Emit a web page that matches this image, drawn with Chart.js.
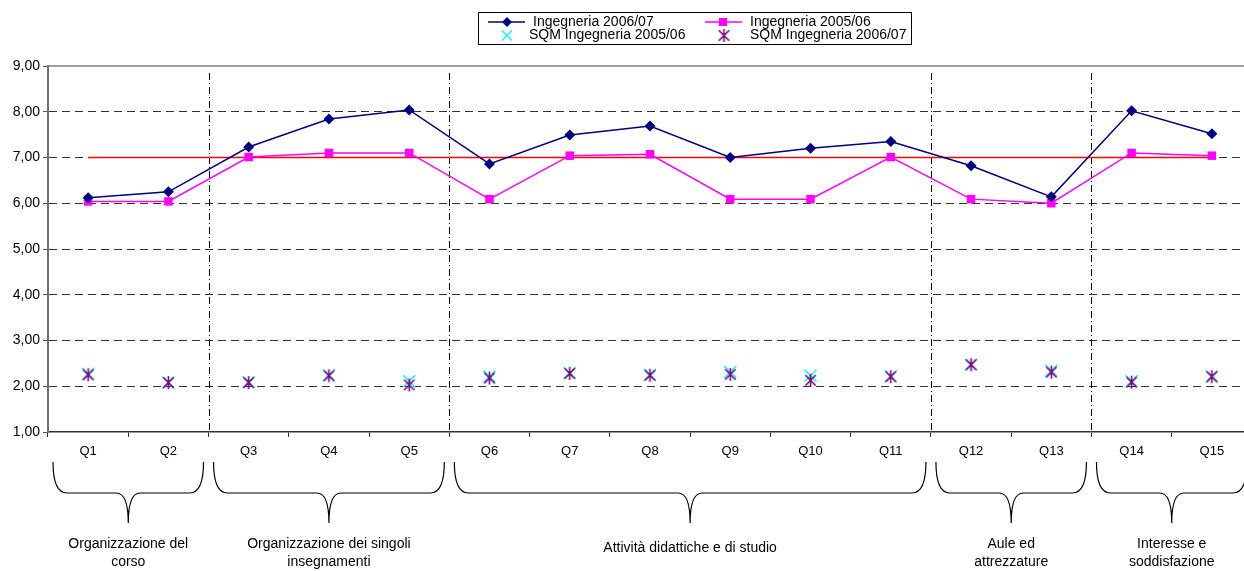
<!DOCTYPE html>
<html>
<head>
<meta charset="utf-8">
<script src="https://cdn.jsdelivr.net/npm/chart.js@4/dist/chart.umd.min.js"></script>
<style>
  html, body { margin: 0; padding: 0; background: #fff; overflow: hidden; }
  #wrap { width: 1244px; height: 571px; overflow: hidden; position: relative; }
  canvas { display: block; }
</style>
</head>
<body>
<div id="wrap"><canvas id="chart" width="1262" height="571"></canvas></div>
<script>
// questions
const categories = ['Q1', 'Q2', 'Q3', 'Q4', 'Q5', 'Q6', 'Q7', 'Q8', 'Q9', 'Q10', 'Q11', 'Q12', 'Q13', 'Q14', 'Q15'];

// mean scores
const ing0607 = [6.12, 6.25, 7.23, 7.84, 8.04, 6.86, 7.49, 7.69, 7.00, 7.20, 7.35, 6.82, 6.14, 8.02, 7.52];
const ing0506 = [6.04, 6.04, 7.01, 7.10, 7.10, 6.09, 7.04, 7.07, 6.09, 6.09, 7.01, 6.09, 6.00, 7.10, 7.04];

// standard deviations (SQM)
const sqm0506 = [2.27, 2.08, 2.09, 2.24, 2.11, 2.21, 2.29, 2.25, 2.31, 2.23, 2.22, 2.47, 2.34, 2.11, 2.21];
const sqm0607 = [2.25, 2.08, 2.08, 2.23, 2.03, 2.18, 2.28, 2.24, 2.26, 2.13, 2.21, 2.47, 2.31, 2.09, 2.21];

// target line
const target = [7, 7, 7, 7, 7, 7, 7, 7, 7, 7, 7, 7, 7, 7, 7];

const seriesNames = ['Ingegneria 2006/07', 'Ingegneria 2005/06', 'SQM Ingegneria 2005/06', 'SQM Ingegneria 2006/07'];

// question groups (first and last index)
const groupNames = [
  ['Organizzazione del', 'corso'],
  ['Organizzazione dei singoli', 'insegnamenti'],
  ['Attività didattiche e di studio'],
  ['Aule ed', 'attrezzature'],
  ['Interesse e', 'soddisfazione']
];
const groupFirst = [0, 2, 5, 11, 13];
const groupLast = [1, 4, 10, 12, 14];

const FONT = '"Liberation Sans", Arial, sans-serif';

function makeStar(color, size) {
  const c = document.createElement('canvas');
  c.width = size; c.height = size;
  const g = c.getContext('2d');
  g.strokeStyle = color;
  g.lineWidth = 1.6;
  const m = size / 2, r = size / 2 - 1;
  g.beginPath();
  g.moveTo(m - r * 0.8, m - r * 0.8); g.lineTo(m + r * 0.8, m + r * 0.8);
  g.moveTo(m + r * 0.8, m - r * 0.8); g.lineTo(m - r * 0.8, m + r * 0.8);
  g.moveTo(m, m - r); g.lineTo(m, m + r);
  g.stroke();
  return c;
}
const starImg = makeStar('#800080', 15);

function diamond(ctx, x, y, r) {
  ctx.beginPath();
  ctx.moveTo(x, y - r); ctx.lineTo(x + r, y); ctx.lineTo(x, y + r); ctx.lineTo(x - r, y);
  ctx.closePath(); ctx.fill();
}

const extras = {
  id: 'extras',
  beforeDatasetsDraw(chart) {
    const {ctx, chartArea: a, scales: {x}} = chart;
    ctx.save();
    // top frame
    ctx.strokeStyle = '#808080'; ctx.lineWidth = 1.5;
    ctx.beginPath(); ctx.moveTo(a.left, a.top); ctx.lineTo(a.right, a.top); ctx.stroke();
    // group separators
    ctx.strokeStyle = '#000'; ctx.lineWidth = 1;
    ctx.setLineDash([7, 3, 1, 3]);
    for (let g = 1; g < groupFirst.length; g++) {
      const i = groupFirst[g];
      const px = Math.round((x.getPixelForValue(i - 1) + x.getPixelForValue(i)) / 2) + 0.5;
      ctx.beginPath(); ctx.moveTo(px, a.top + 7); ctx.lineTo(px, a.bottom); ctx.stroke();
    }
    ctx.restore();
  },
  afterDraw(chart) {
    const {ctx, scales: {x}} = chart;
    const half = (x.getPixelForValue(1) - x.getPixelForValue(0)) / 2;
    ctx.save();
    // braces + group labels
    ctx.strokeStyle = '#000'; ctx.lineWidth = 1.2;
    const yTop = 462, yMid = 493, yTip = 523, r = 14, rt = 12;
    ctx.font = '14px ' + FONT;
    ctx.fillStyle = '#000';
    ctx.textAlign = 'center'; ctx.textBaseline = 'middle';
    for (let g = 0; g < groupFirst.length; g++) {
      const x0 = x.getPixelForValue(groupFirst[g]) - half + 5;
      const x1 = x.getPixelForValue(groupLast[g]) + half - 5;
      const cx = (x0 + x1) / 2;
      ctx.beginPath();
      ctx.moveTo(x0, yTop);
      ctx.quadraticCurveTo(x0, yMid, x0 + r, yMid);
      ctx.lineTo(cx - rt, yMid);
      ctx.quadraticCurveTo(cx, yMid, cx, yTip);
      ctx.quadraticCurveTo(cx, yMid, cx + rt, yMid);
      ctx.lineTo(x1 - r, yMid);
      ctx.quadraticCurveTo(x1, yMid, x1, yTop);
      ctx.stroke();
      const lines = groupNames[g];
      if (lines.length === 1) {
        ctx.fillText(lines[0], cx, 548);
      } else {
        ctx.fillText(lines[0], cx, 544);
        ctx.fillText(lines[1], cx, 562);
      }
    }

    // legend
    ctx.lineWidth = 1; ctx.strokeStyle = '#000';
    ctx.strokeRect(478.5, 12.5, 433, 32);
    ctx.textAlign = 'left';
    ctx.lineWidth = 1.5;
    ctx.strokeStyle = '#000080'; ctx.fillStyle = '#000080';
    ctx.beginPath(); ctx.moveTo(488, 22); ctx.lineTo(525, 22); ctx.stroke();
    diamond(ctx, 507, 22, 5);
    ctx.strokeStyle = '#FF00FF'; ctx.fillStyle = '#FF00FF';
    ctx.beginPath(); ctx.moveTo(705, 22); ctx.lineTo(742, 22); ctx.stroke();
    ctx.fillRect(719, 18, 8, 8);
    ctx.strokeStyle = '#00FFFF';
    ctx.beginPath();
    ctx.moveTo(502, 30.5); ctx.lineTo(512, 40.5);
    ctx.moveTo(512, 30.5); ctx.lineTo(502, 40.5);
    ctx.stroke();
    ctx.drawImage(starImg, 724 - 7.5, 35.5 - 7.5);
    ctx.fillStyle = '#000';
    ctx.fillText(seriesNames[0], 533, 22);
    ctx.fillText(seriesNames[1], 750, 22);
    ctx.fillText(seriesNames[2], 529, 35.5);
    ctx.fillText(seriesNames[3], 750, 35.5);
    ctx.restore();
  }
};

const chart = new Chart(document.getElementById('chart').getContext('2d'), {
  type: 'line',
  data: {
    labels: categories,
    datasets: [
      {
        label: seriesNames[0], data: ing0607,
        borderColor: '#000080', backgroundColor: '#000080', borderWidth: 1.5,
        pointStyle: 'rectRot', pointRadius: 5.5, pointBorderWidth: 0
      },
      {
        label: seriesNames[1], data: ing0506,
        borderColor: '#FF00FF', backgroundColor: '#FF00FF', borderWidth: 1.5,
        pointStyle: 'rect', pointRadius: 6, pointBorderWidth: 0
      },
      {
        label: seriesNames[3], data: sqm0607, showLine: false,
        pointStyle: starImg, pointRadius: 7
      },
      {
        label: seriesNames[2], data: sqm0506, showLine: false,
        borderColor: '#00FFFF', backgroundColor: '#00FFFF',
        pointStyle: 'crossRot', pointRadius: 8.5, pointBorderWidth: 1.5
      },
      {
        label: 'target', data: target,
        borderColor: '#FF0000', borderWidth: 1.5, pointRadius: 0
      }
    ]
  },
  options: {
    responsive: false,
    animation: false,
    devicePixelRatio: 1,
    layout: { padding: { top: 66, right: 6, left: 0, bottom: 0 } },
    plugins: { legend: { display: false }, tooltip: { enabled: false } },
    elements: { line: { tension: 0 } },
    scales: {
      x: {
        offset: true,
        grid: { offset: true, drawOnChartArea: false, drawTicks: true, tickLength: 5, color: '#333' },
        border: { color: '#333', width: 1.5 },
        ticks: { color: '#000', font: { family: FONT, size: 13 }, padding: 7, maxRotation: 0, autoSkip: false },
        afterFit: s => { s.height = 139; }
      },
      y: {
        min: 1, max: 9,
        ticks: {
          stepSize: 1, color: '#000', padding: 3,
          font: { family: FONT, size: 14 },
          callback: v => v.toFixed(2).replace('.', ',')
        },
        grid: {
          color: c => (c.tick && (c.tick.value === 9 || c.tick.value === 1)) ? 'rgba(0,0,0,0)' : '#333',
          tickColor: '#555', tickLength: 5, lineWidth: 1
        },
        border: { color: '#707070', width: 2, dash: [8, 5] },
        afterFit: s => { s.width = 48; }
      }
    }
  },
  plugins: [extras]
});
</script>
</body>
</html>
